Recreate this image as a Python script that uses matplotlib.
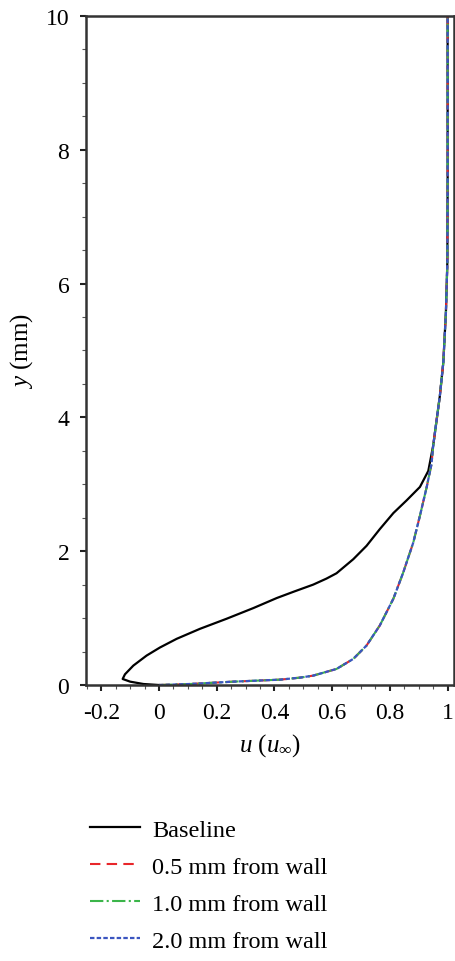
import numpy as np
import matplotlib
matplotlib.use("Agg")
import matplotlib.pyplot as plt
from matplotlib.ticker import MultipleLocator

plt.rcParams['font.family'] = ['Liberation Serif', 'DejaVu Serif']
plt.rcParams['mathtext.fontset'] = 'custom'
plt.rcParams['mathtext.rm'] = 'Liberation Serif'
plt.rcParams['mathtext.it'] = 'Liberation Serif:italic'

# perfil base (u, y)
u_base = [0.0, -0.054, -0.1, -0.126, -0.118, -0.089, -0.043, 0.003, 0.061, 0.142, 0.234,
          0.327, 0.408, 0.47, 0.534, 0.58, 0.615, 0.673, 0.719, 0.765, 0.812, 0.858, 0.904,
          0.933, 0.95, 0.973, 0.985, 0.994, 0.999, 1.0, 1.0]
y_base = [0.0, 0.015, 0.05, 0.09, 0.16, 0.29, 0.44, 0.56, 0.69, 0.84, 0.99,
          1.15, 1.30, 1.40, 1.50, 1.59, 1.67, 1.88, 2.08, 2.33, 2.57, 2.76, 2.96,
          3.2, 3.58, 4.32, 4.82, 5.57, 6.32, 7.56, 10.0]

# perfiles con control (las tres curvas coinciden)
u_ctrl = [0.0, 0.107, 0.257, 0.419, 0.488, 0.534, 0.615, 0.673, 0.719, 0.765, 0.812,
          0.846, 0.881, 0.904, 0.927, 0.944, 0.95, 0.973, 0.985, 0.994, 0.999, 1.0, 1.0]
y_ctrl = [0.0, 0.015, 0.05, 0.08, 0.11, 0.14, 0.24, 0.39, 0.59, 0.89, 1.29,
          1.68, 2.13, 2.53, 2.95, 3.3, 3.58, 4.32, 4.82, 5.57, 6.32, 7.56, 10.0]

fig = plt.figure(figsize=(4.56, 9.62), dpi=100)
ax = fig.add_axes([0.1886, 0.2869, 0.807, 0.6955])

ax.plot(u_base, y_base, color='black', lw=1.6, label='Baseline')
ax.plot(u_ctrl, y_ctrl, color='#e8262a', lw=1.5, ls=(0, (5, 3)), label='0.5 mm from wall')
ax.plot(u_ctrl, y_ctrl, color='#3bb54a', lw=1.5, ls='-.', label='1.0 mm from wall')
ax.plot(u_ctrl, y_ctrl, color='#3b55c0', lw=1.6, ls=(0, (2, 1)), label='2.0 mm from wall')

ax.set_xlim(-0.253, 1.022)
ax.set_ylim(0, 10)
ax.xaxis.set_minor_locator(MultipleLocator(0.05))
ax.yaxis.set_minor_locator(MultipleLocator(0.5))
ax.set_xticks([-0.2, 0, 0.2, 0.4, 0.6, 0.8, 1.0])
ax.set_xticklabels(['-0.2', '0', '0.2', '0.4', '0.6', '0.8', '1'])
ax.set_yticks([0, 2, 4, 6, 8, 10])
ax.set_yticklabels(['0', '2', '4', '6', '8', '10'])
ax.tick_params(which='major', length=4, width=1.5, labelsize=17, color='#222222', pad=8)
ax.tick_params(which='minor', length=3, width=0.8, color='#555555')
for s in ax.spines.values():
    s.set_linewidth(1.8)
    s.set_color('#333333')

ax.set_xlabel(r'$u$ ($u_{\infty}$)', fontsize=18, labelpad=6)
ax.set_ylabel(r'$y$ (mm)', fontsize=18, labelpad=8)

fig.legend(loc='upper left', bbox_to_anchor=(0.177, 0.158), frameon=False, fontsize=17.5,
           handlelength=2.05, handletextpad=0.5, labelspacing=0.62, borderaxespad=0)

fig.savefig('out.png', dpi=100)
